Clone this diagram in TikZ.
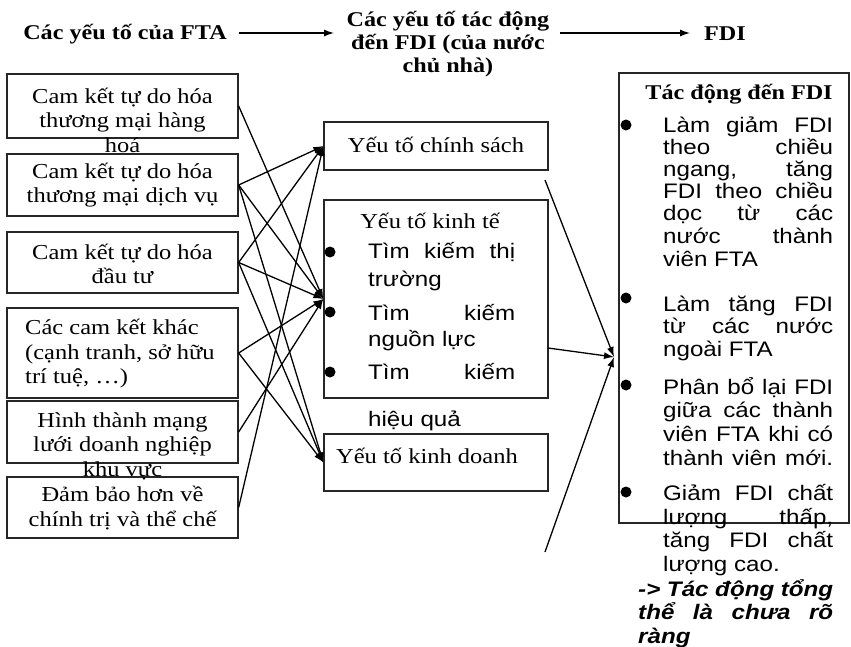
\documentclass[tikz,border=0pt]{standalone}
\usepackage{fontspec}
\setmainfont{Liberation Serif}[FakeStretch=1.15]
\newfontfamily\sansf{Liberation Sans}[FakeStretch=1.15]
\usetikzlibrary{arrows.meta}
\newcommand\mkJ[2]{\makebox[#1][s]{#2}}
\newcommand\mkL[2]{\makebox[#1][l]{#2}}
\begin{document}
\begin{tikzpicture}[x=1pt,y=-1pt,
  box/.style={draw=black!85, line width=1.3pt, inner sep=0pt},
  sertext/.style={font=\fontsize{21.3}{24.5}\selectfont, align=center, inner sep=0pt},
  hdr/.style={font=\bfseries\fontsize{21}{23}\selectfont, align=center, inner sep=0pt},
  stext/.style={font=\sansf\fontsize{21}{22}\selectfont, anchor=base west, inner sep=0pt},
  itext/.style={font=\sansf\bfseries\itshape\fontsize{21}{22}\selectfont, anchor=base west, inner sep=0pt},
  bdot/.style={circle, fill=black, inner sep=0pt, minimum size=11pt},
  conn/.style={-{Latex[length=10pt,width=7pt]}, line width=1.3pt},
]
\useasboundingbox (0,0) rectangle (851,647);

% header
\node[hdr] (h1) at (125,34) {Các yếu tố của FTA};
\node[hdr] (h2) at (448,44) {Các yếu tố tác động\\đến FDI (của nước\\chủ nhà)};
\node[hdr] (h3) at (725,34) {FDI};
\coordinate (a1s) at (239,33);
\coordinate (a1e) at (334,33);
\coordinate (a2s) at (560,33);
\coordinate (a2e) at (690,33);
\draw[conn] (a1s) -- (a1e);
\draw[conn] (a2s) -- (a2e);

% left boxes
\node[box, minimum width=231, minimum height=64] (b1) at (122.5,106) {};
\node[box, minimum width=231, minimum height=62] (b2) at (122.5,185) {};
\node[box, minimum width=231, minimum height=61] (b3) at (122.5,262.5) {};
\node[box, minimum width=231, minimum height=90] (b4) at (122.5,353) {};
\node[box, minimum width=231, minimum height=62] (b5) at (122.5,432) {};
\node[box, minimum width=231, minimum height=61] (b6) at (122.5,507.5) {};

\node[sertext] (t1) at (122.5,120) {Cam kết tự do hóa\\thương mại hàng\\hoá};
\node[sertext] (t2) at (122.5,185) {Cam kết tự do hóa\\thương mại dịch vụ};
\node[sertext] (t3) at (122.5,264) {Cam kết tự do hóa\\đầu tư};
\node[sertext, anchor=west, align=left] (t4) at (25,354) {Các cam kết khác\\(cạnh tranh, sở hữu\\trí tuệ, …)};
\node[sertext] (t5) at (122.5,446) {Hình thành mạng\\lưới doanh nghiệp\\khu vực};
\node[sertext] (t6) at (122.5,508) {Đảm bảo hơn về\\chính trị và thể chế};

% middle boxes
\node[box, minimum width=224, minimum height=48] (pol) at (436,146) {};
\node[box, minimum width=224, minimum height=198] (eco) at (436,299) {};
\node[box, minimum width=224, minimum height=57] (bus) at (436,462.5) {};

\node[sertext] (pt) at (436,145) {Yếu tố chính sách};
\node[sertext] (et) at (430,221) {Yếu tố kinh tế};
\node[sertext] (bt) at (427,456) {Yếu tố kinh doanh};

\node[bdot] (ed1) at (330,252) {};
\node[bdot] (ed2) at (330,312) {};
\node[bdot] (ed3) at (330,372) {};
\node[stext] (e1) at (368,258) {\mkJ{147pt}{Tìm kiếm thị}};
\node[stext] (e2) at (368,286) {\mkL{147pt}{trường}};
\node[stext] (e3) at (368,320) {\mkJ{147pt}{Tìm kiếm}};
\node[stext] (e4) at (368,346) {\mkL{147pt}{nguồn lực}};
\node[stext] (e5) at (368,379) {\mkJ{147pt}{Tìm kiếm}};
\node[stext] (e6) at (368,426) {\mkL{147pt}{hiệu quả}};

% right box
\node[box, minimum width=230, minimum height=450] (rb) at (734,298) {};
\node[hdr] (rt) at (739,94) {Tác động đến FDI};
\node[bdot] (rd1) at (626,125) {};
\node[bdot] (rd2) at (626,298) {};
\node[bdot] (rd3) at (626,385) {};
\node[bdot] (rd4) at (626,492) {};

\node[stext] (r1) at (663,133) {\mkJ{170pt}{Làm giảm FDI}};
\node[stext] (r2) at (663,155) {\mkJ{170pt}{theo chiều}};
\node[stext] (r3) at (663,177) {\mkJ{170pt}{ngang, tăng}};
\node[stext] (r4) at (663,199) {\mkJ{170pt}{FDI theo chiều}};
\node[stext] (r5) at (663,221) {\mkJ{170pt}{dọc từ các}};
\node[stext] (r6) at (663,243) {\mkJ{170pt}{nước thành}};
\node[stext] (r7) at (663,266) {\mkL{170pt}{viên FTA}};
\node[stext] (r8) at (663,311) {\mkJ{170pt}{Làm tăng FDI}};
\node[stext] (r9) at (663,333) {\mkJ{170pt}{từ các nước}};
\node[stext] (r10) at (663,356) {\mkL{170pt}{ngoài FTA}};
\node[stext] (r11) at (663,394) {\mkJ{170pt}{Phân bổ lại FDI}};
\node[stext] (r12) at (663,417) {\mkJ{170pt}{giữa các thành}};
\node[stext] (r13) at (663,441) {\mkJ{170pt}{viên FTA khi có}};
\node[stext] (r14) at (663,465) {\mkJ{170pt}{thành viên mới.}};
\node[stext] (r15) at (663,500) {\mkJ{170pt}{Giảm FDI chất}};
\node[stext] (r16) at (663,524) {\mkJ{170pt}{lượng thấp,}};
\node[stext] (r17) at (663,547) {\mkJ{170pt}{tăng FDI chất}};
\node[stext] (r18) at (663,571) {\mkL{170pt}{lượng cao.}};
\node[itext] (r19) at (638,596) {\mkJ{195pt}{-> Tác động tổng}};
\node[itext] (r20) at (638,619) {\mkJ{195pt}{thể là chưa rõ}};
\node[itext] (r21) at (638,643) {\mkL{195pt}{ràng}};

% connectors left -> middle
\draw[conn] (b1.east) -- (eco.west);
\draw[conn] (b2.east) -- (pol.west);
\draw[conn] (b2.east) -- (eco.west);
\draw[conn] (b2.east) -- (bus.west);
\draw[conn] (b3.east) -- (pol.west);
\draw[conn] (b3.east) -- (eco.west);
\draw[conn] (b3.east) -- (bus.west);
\draw[conn] (b4.east) -- (eco.west);
\draw[conn] (b4.east) -- (bus.west);
\draw[conn] (b5.east) -- (eco.west);
\draw[conn] (b6.east) -- (pol.west);

% connectors middle -> right
\coordinate (c1) at (545,180);
\coordinate (c2) at (548,348);
\coordinate (c3) at (545,552);
\coordinate (tgt) at (614,357);
\draw[conn] (c1) -- (tgt);
\draw[conn] (c2) -- (tgt);
\draw[conn] (c3) -- (tgt);
\end{tikzpicture}
\end{document}
